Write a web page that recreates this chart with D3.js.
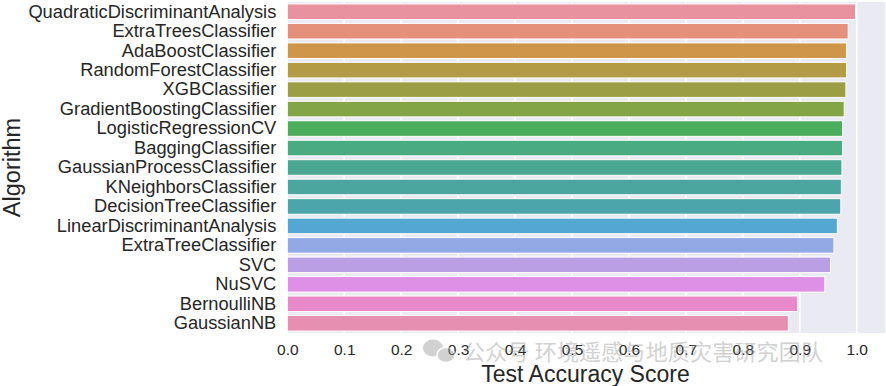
<!DOCTYPE html>
<html>
<head>
<meta charset="utf-8">
<script src="https://cdn.jsdelivr.net/npm/d3@7"></script>
<style>
html,body{margin:0;padding:0;background:#fff;}
svg{display:block;}
</style>
</head>
<body>
<svg id="chart" width="886" height="386"></svg>
<script>
const algorithms = ["QuadraticDiscriminantAnalysis","ExtraTreesClassifier","AdaBoostClassifier","RandomForestClassifier","XGBClassifier","GradientBoostingClassifier","LogisticRegressionCV","BaggingClassifier","GaussianProcessClassifier","KNeighborsClassifier","DecisionTreeClassifier","LinearDiscriminantAnalysis","ExtraTreeClassifier","SVC","NuSVC","BernoulliNB","GaussianNB"];
const scores = [0.998,0.985,0.982,0.982,0.981,0.978,0.975,0.975,0.974,0.973,0.972,0.966,0.960,0.954,0.944,0.896,0.880];
const barColors = ["#E8919F","#E4907A","#CF9649","#B39A45","#9C9E45","#83A546","#4CAD5C","#4AAA80","#4AA792","#4AA69E","#4BA5AB","#55A7D3","#93A9E6","#BA9FE5","#DE8FE6","#E88ACA","#E68FB0"];
const xTicks = [0.0,0.1,0.2,0.3,0.4,0.5,0.6,0.7,0.8,0.9,1.0];
const xLabel = "Test Accuracy Score";
const yLabel = "Algorithm";
const watermark = "公众号 环境遥感与地质灾害研究团队";

const svg = d3.select("#chart");
const L = 287.3, R = 885.2, T = 2, B = 333;
const x = d3.scaleLinear().domain([0, 1.05]).range([L, R]);
const y = d3.scaleBand().domain(algorithms).range([T, B]).paddingInner(0.2).paddingOuter(0.1);

svg.append("rect").attr("x", L).attr("y", T).attr("width", R - L).attr("height", B - T).attr("fill", "#EAEAF2");

svg.append("g").selectAll("line").data(xTicks).join("line")
  .attr("x1", d => x(d)).attr("x2", d => x(d)).attr("y1", T).attr("y2", B)
  .attr("stroke", "#fff").attr("stroke-width", 1.6);

svg.append("g").selectAll("rect").data(algorithms).join("rect")
  .attr("x", x(0)).attr("y", d => y(d))
  .attr("width", (d, i) => x(scores[i]) - x(0)).attr("height", y.bandwidth())
  .attr("fill", (d, i) => barColors[i]).attr("stroke", "#fff").attr("stroke-width", 1);

const font = "Arial, 'Liberation Sans', sans-serif";
const xAxis = d3.axisBottom(x).tickValues(xTicks).tickFormat(d3.format(".1f")).tickSize(0).tickPadding(11);
const gx = svg.append("g").attr("transform", `translate(0,${B})`).call(xAxis);
gx.select(".domain").remove();
gx.selectAll("text").attr("font-family", font).attr("font-size", 15.5).attr("fill", "#262626");

const yAxis = d3.axisLeft(y).tickSize(0).tickPadding(11);
const gy = svg.append("g").attr("transform", `translate(${L},0)`).call(yAxis);
gy.select(".domain").remove();
gy.selectAll("text").attr("font-family", font).attr("font-size", 18.3).attr("fill", "#262626");

svg.append("text").attr("x", 585.5).attr("y", 382)
  .attr("text-anchor", "middle").attr("font-family", font).attr("font-size", 23).attr("fill", "#262626").text(xLabel);
svg.append("text").attr("transform", `translate(20,${(T + B) / 2}) rotate(-90)`)
  .attr("text-anchor", "middle").attr("font-family", font).attr("font-size", 23.5).attr("fill", "#262626").text(yLabel);

// watermark
const wm = svg.append("g").attr("opacity", 0.45);
wm.append("ellipse").attr("cx", 433).attr("cy", 348).attr("rx", 10).attr("ry", 8.5).attr("fill", "#9a9a9a");
wm.append("ellipse").attr("cx", 446).attr("cy", 355).attr("rx", 9).attr("ry", 7.5).attr("fill", "#9a9a9a").attr("stroke", "#fff").attr("stroke-width", 1.5);
wm.append("text").attr("x", 463).attr("y", 360).attr("font-family", "'Noto Sans CJK SC', sans-serif")
  .attr("font-size", 22).attr("fill", "#9a9a9a").attr("textLength", 360).text(watermark);
</script>
</body>
</html>
